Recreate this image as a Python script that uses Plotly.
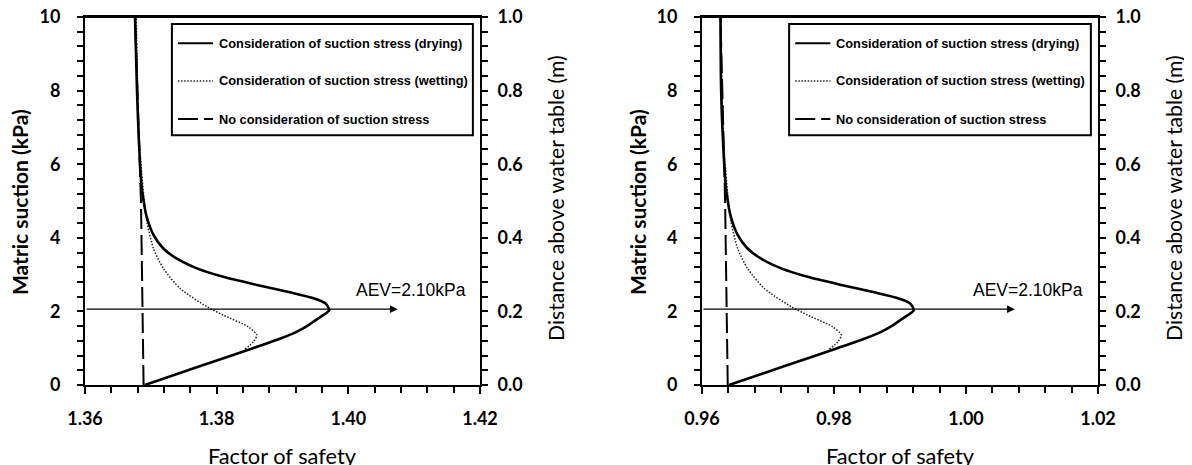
import plotly.graph_objects as go

# ---------------- data ----------------
# Drying curve: matric suction (kPa) and factor of safety
dry_suction = [0.00, 0.50, 1.00, 1.27, 1.45, 1.62, 1.77, 1.90, 2.04, 2.22, 2.36, 2.52,
               2.72, 2.94, 3.17, 3.44, 3.71, 4.08, 4.62, 5.00, 5.40, 6.57, 8.00, 10.00]
dry_fs_left = [1.3691, 1.3773, 1.3855, 1.3898, 1.3922, 1.3939, 1.3951, 1.3962, 1.3971,
               1.3965, 1.3947, 1.3911, 1.3861, 1.3810, 1.3770, 1.3739, 1.3719, 1.3704,
               1.3693, 1.3689, 1.3686, 1.3682, 1.3679, 1.3676]
dry_fs_right = [0.9641, 0.9723, 0.9805, 0.9848, 0.9872, 0.9889, 0.9901, 0.9912, 0.9921,
                0.9915, 0.9897, 0.9861, 0.9811, 0.9760, 0.9720, 0.9689, 0.9669, 0.9654,
                0.9643, 0.9639, 0.9636, 0.9632, 0.9629, 0.9628]

# Wetting curve
wet_suction = [0.97, 1.18, 1.36, 1.58, 1.90, 2.13, 2.63, 3.17, 3.71, 4.44, 5.00,
               6.50, 8.00, 10.00]
wet_fs_left = [1.3843, 1.3856, 1.3861, 1.3848, 1.3810, 1.3785, 1.3744, 1.3719, 1.3704,
               1.3694, 1.3690, 1.3683, 1.3680, 1.3678]
wet_fs_right = [0.9793, 0.9806, 0.9811, 0.9798, 0.9760, 0.9735, 0.9694, 0.9669, 0.9654,
                0.9644, 0.9640, 0.9633, 0.9630, 0.9629]

# No consideration of suction stress
nos_suction = [0.0, 5.0, 10.0]
nos_fs_left = [1.3689, 1.3685, 1.3676]
nos_fs_right = [0.9639, 0.9635, 0.9628]

# Air-entry value arrow
aev_label = "AEV=2.10kPa"
aev_y = 2.06
aev_label_y = 2.58
aev_left = [1.36, 1.4075, 1.4182]   # tail, head, label right edge
aev_right = [0.96, 1.0074, 1.0180]

x_ranges = [[1.36, 1.42], [0.96, 1.02]]
y_range = [0, 10]
y2_range = [0, 1]

legend_names = ["Consideration of suction stress (drying)",
                "Consideration of suction stress (wetting)",
                "No consideration of suction stress"]

x_title = "Factor of safety"
y_title = "Matric suction (kPa)"
y2_title = "Distance above water table (m)"

# ---------------- layout helpers ----------------
# the page adds an 8px body margin, so the figure is drawn 8px smaller
OFF = 8
W, H = 1192 - OFF, 465 - OFF


def fx(px):
    return (px - OFF) / W


def fy(py):
    return 1 - (py - OFF) / H


styles = [dict(color="black", width=2.6, dash="solid"),
          dict(color="#222222", width=1.5, dash="1.5px,1.6px"),
          dict(color="black", width=2, dash="20px,6px")]
tick_font = dict(family="Lato", size=18, color="black", weight="bold")
x_dom = [[fx(85), fx(480)], [fx(702), fx(1098)]]
y_dom = [fy(385), fy(17)]

fig = go.Figure()

panels = [
    dict(xa="x", ya="y", ya2="y2", dry=dry_fs_left, wet=wet_fs_left, nos=nos_fs_left, aev=aev_left),
    dict(xa="x2", ya="y3", ya2="y4", dry=dry_fs_right, wet=wet_fs_right, nos=nos_fs_right, aev=aev_right),
]

for p in panels:
    fig.add_trace(go.Scatter(x=p["nos"], y=nos_suction, mode="lines", name=legend_names[2],
                             line=styles[2], xaxis=p["xa"], yaxis=p["ya"], showlegend=False))
    fig.add_trace(go.Scatter(x=p["wet"], y=wet_suction, mode="lines", name=legend_names[1],
                             line=dict(**styles[1], shape="spline", smoothing=0.7),
                             xaxis=p["xa"], yaxis=p["ya"], showlegend=False))
    fig.add_trace(go.Scatter(x=p["dry"], y=dry_suction, mode="lines", name=legend_names[0],
                             line=dict(**styles[0], shape="spline", smoothing=0.7),
                             xaxis=p["xa"], yaxis=p["ya"], showlegend=False))
    # secondary axis (distance above water table)
    fig.add_trace(go.Scatter(x=[None], y=[None], xaxis=p["xa"], yaxis=p["ya2"],
                             showlegend=False, hoverinfo="skip"))

common_x = dict(showline=True, linecolor="black", linewidth=2, mirror=True,
                ticks="outside", ticklen=7, tickwidth=2, tickcolor="black",
                showgrid=False, zeroline=False, tickfont=tick_font, tickformat=".2f",
                dtick=0.02, ticklabelstandoff=9, automargin=False, ticklabeloverflow="allow",
                minor=dict(ticks="outside", ticklen=6, tickwidth=1.5, tickcolor="black", dtick=0.004))
common_y = dict(showline=True, linecolor="black", linewidth=2,
                ticks="outside", ticklen=6, tickwidth=2, tickcolor="black",
                showgrid=False, zeroline=False, tickfont=tick_font, range=y_range,
                dtick=2, ticklabelstandoff=13, automargin=False, domain=y_dom,
                ticklabeloverflow="allow",
                minor=dict(ticks="outside", ticklen=6, tickwidth=1.5, tickcolor="black", dtick=0.4))
common_y2 = dict(showline=True, linecolor="black", linewidth=2, side="right",
                 ticks="outside", ticklen=6, tickwidth=2, tickcolor="black",
                 showgrid=False, zeroline=False, tickfont=tick_font, range=y2_range,
                 dtick=0.2, tickformat=".1f", ticklabelstandoff=6, automargin=False,
                 ticklabeloverflow="allow",
                 minor=dict(ticks="outside", ticklen=6, tickwidth=1.5, tickcolor="black", dtick=0.04))

fig.update_layout(
    width=W, height=H,
    margin=dict(l=0, r=0, t=0, b=0),
    paper_bgcolor="white", plot_bgcolor="white",
    showlegend=False,
    xaxis=dict(common_x, domain=x_dom[0], range=x_ranges[0], anchor="y"),
    yaxis=dict(common_y, anchor="x"),
    yaxis2=dict(common_y2, anchor="x", overlaying="y"),
    xaxis2=dict(common_x, domain=x_dom[1], range=x_ranges[1], anchor="y3"),
    yaxis3=dict(common_y, anchor="x2"),
    yaxis4=dict(common_y2, anchor="x2", overlaying="y3"),
)

# legend drawn inside each panel
box = dict(x0=0.220, x1=0.982, y0=0.679, y1=0.981)
rows = [0.9285, 0.8261, 0.7228]
samp = [0.2354, 0.3241]
text_x = 0.3334
for p, xr in zip(panels, x_ranges):
    xd = p["xa"] + " domain"
    yd = p["ya"] + " domain"
    # top frame line of the panel
    fig.add_shape(type="line", xref=xd, yref=yd, x0=0, x1=1, y0=1, y1=1,
                  line=dict(color="black", width=2), layer="above")
    fig.add_shape(type="rect", xref=xd, yref=yd, **box,
                  line=dict(color="black", width=2), fillcolor="white", layer="above")
    for i, ry in enumerate(rows):
        st = styles[i]
        fig.add_shape(type="line", xref=xd, yref=yd, x0=samp[0], x1=samp[1], y0=ry, y1=ry,
                      line=dict(color=st["color"], width=2 if i != 1 else 1.5, dash=st["dash"]),
                      layer="above")
        fig.add_annotation(xref=xd, yref=yd, x=text_x, y=ry, text=legend_names[i],
                           showarrow=False, xanchor="left", yanchor="middle",
                           font=dict(family="Liberation Sans", size=12.8, color="black", weight="bold"))
    # AEV arrow
    fig.add_annotation(xref=p["xa"], yref=p["ya"], x=p["aev"][1], y=aev_y,
                       axref=p["xa"], ayref=p["ya"], ax=p["aev"][0], ay=aev_y,
                       text="", showarrow=True, arrowhead=2, arrowsize=1.3, arrowwidth=1.2,
                       arrowcolor="black", standoff=0, startstandoff=0)
    fig.add_annotation(xref=p["xa"], yref=p["ya"], x=p["aev"][2], y=aev_label_y,
                       text=aev_label, showarrow=False, xanchor="right", yanchor="middle",
                       font=dict(family="Liberation Sans", size=17.5, color="black"))

# axis titles
title_font = dict(family="Lato", size=21.8, color="black")
for cx, ly, ry in [(282.5, 19, 556), (900, 637, 1174)]:
    fig.add_annotation(xref="paper", yref="paper", x=fx(cx), y=fy(455), text=x_title,
                       showarrow=False, xanchor="center", yanchor="middle", font=title_font)
    fig.add_annotation(xref="paper", yref="paper", x=fx(ly), y=fy(202), text=y_title,
                       showarrow=False, xanchor="center", yanchor="middle", textangle=-90,
                       font=dict(title_font, size=21, weight="bold"))
    fig.add_annotation(xref="paper", yref="paper", x=fx(ry), y=fy(198), text=y2_title,
                       showarrow=False, xanchor="center", yanchor="middle", textangle=-90,
                       font=dict(title_font, size=21.2))

fig.write_html("out.html")
